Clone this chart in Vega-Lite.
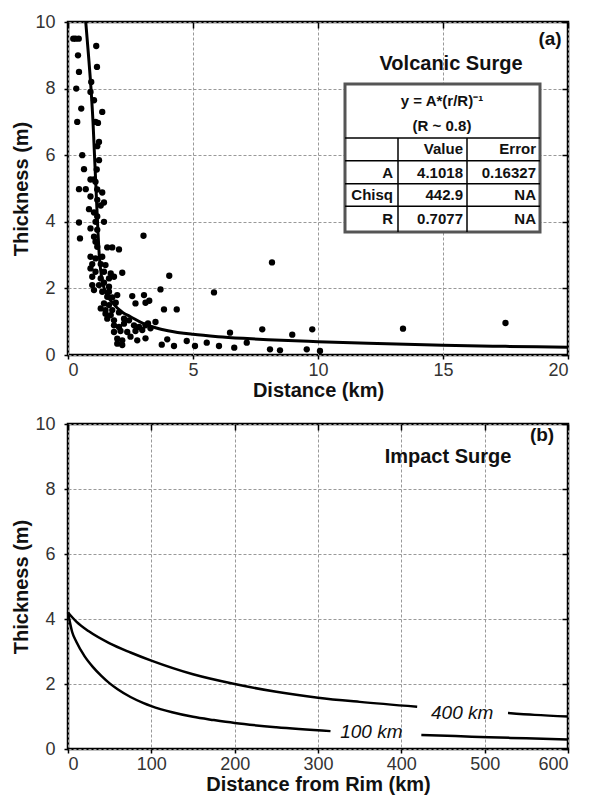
{
  "$schema": "https://vega.github.io/schema/vega-lite/v6.json",
  "background": "white",
  "padding": {"left": 10, "top": 11, "right": 5, "bottom": 3},
  "spacing": 11,
  "config": {
    "font": "Liberation Sans",
    "view": {"stroke": "black", "strokeWidth": 2.5},
    "axis": {
      "labelFont": "Liberation Sans", "labelFontSize": 18, "labelColor": "#333",
      "titleFont": "Liberation Sans", "titleFontSize": 20, "titleFontWeight": "bold", "titleColor": "#111",
      "domain": false, "grid": true, "gridColor": "#999", "gridDash": [3, 2], "gridWidth": 1,
      "tickColor": "black", "tickWidth": 1.5, "tickSize": 4
    },
    "axisX": {"labelPadding": 2, "titlePadding": 1},
    "axisY": {"labelPadding": 9, "titlePadding": 3},
    "text": {"font": "Liberation Sans"}
  },
  "datasets": {
    "volcanic": [
      {"x":0.21,"y":9.5},{"x":0.3,"y":9.5},{"x":0.43,"y":9.5},{"x":1.13,"y":9.28},{"x":0.4,"y":9.0},{"x":1.16,"y":8.65},{"x":0.44,"y":8.5},{"x":0.33,"y":8.0},{"x":0.93,"y":8.2},{"x":0.9,"y":7.9},{"x":1.04,"y":7.65},{"x":0.53,"y":7.4},{"x":1.37,"y":7.3},{"x":0.37,"y":7.0},{"x":1.1,"y":7.0},{"x":1.2,"y":6.97},{"x":1.24,"y":6.4},{"x":1.17,"y":6.27},{"x":0.57,"y":6.0},{"x":1.24,"y":5.85},{"x":1.15,"y":5.57},{"x":0.64,"y":5.58},{"x":0.9,"y":5.27},{"x":1.1,"y":5.2},
      {"x":1.04,"y":5.27},{"x":0.44,"y":4.98},{"x":0.71,"y":4.98},{"x":1.17,"y":4.97},{"x":1.37,"y":4.88},{"x":0.9,"y":4.76},{"x":1.17,"y":4.66},{"x":1.44,"y":4.58},{"x":1.31,"y":4.49},{"x":0.84,"y":4.38},{"x":1.04,"y":4.28},{"x":1.17,"y":4.16},{"x":1.1,"y":4.0},{"x":0.44,"y":3.98},{"x":1.44,"y":4.0},{"x":0.9,"y":3.8},{"x":1.17,"y":3.76},{"x":0.48,"y":3.5},{"x":1.04,"y":3.55},{"x":1.1,"y":3.4},{"x":3.02,"y":3.58},{"x":1.17,"y":3.25},{"x":1.57,"y":3.23},{"x":1.77,"y":3.23},{"x":2.04,"y":3.17},{"x":0.9,"y":2.95},{"x":1.1,"y":2.9},{"x":1.37,"y":2.95},{"x":0.97,"y":2.73},{"x":1.31,"y":2.73},{"x":1.5,"y":2.7},{"x":0.9,"y":2.6},{"x":1.1,"y":2.5},{"x":1.44,"y":2.5},{"x":1.71,"y":2.45},{"x":2.17,"y":2.47},{"x":0.97,"y":2.35},{"x":1.31,"y":2.3},{"x":1.64,"y":2.3},{"x":1.84,"y":2.35},{"x":0.97,"y":2.1},{"x":1.24,"y":2.1},{"x":1.44,"y":2.17},{"x":1.64,"y":2.05},{"x":1.04,"y":1.95},{"x":1.37,"y":1.9},{"x":1.64,"y":1.9},{"x":1.57,"y":1.75},{"x":1.77,"y":1.73},{"x":1.97,"y":1.8},{"x":1.44,"y":1.55},{"x":1.64,"y":1.5},{"x":1.91,"y":1.57},{"x":2.57,"y":1.77},{"x":3.04,"y":1.8},{"x":2.7,"y":1.55},{"x":3.1,"y":1.57},{"x":1.31,"y":1.4},{"x":1.5,"y":1.35},{"x":1.77,"y":1.35},{"x":1.5,"y":1.24},{"x":1.71,"y":1.2},{"x":2.04,"y":1.28},{"x":1.57,"y":1.09},{"x":1.84,"y":1.04},{"x":2.24,"y":1.09},{"x":2.44,"y":1.04},{"x":1.84,"y":0.89},{"x":2.04,"y":0.84},{"x":2.24,"y":0.94},{"x":2.64,"y":0.89},{"x":2.84,"y":0.84},{"x":3.1,"y":0.89},{"x":1.84,"y":0.69},{"x":2.1,"y":0.72},{"x":2.37,"y":0.69},{"x":2.7,"y":0.72},{"x":2.97,"y":0.75},{"x":1.97,"y":0.49},{"x":2.17,"y":0.44},{"x":2.5,"y":0.55},{"x":2.77,"y":0.44},{"x":3.1,"y":0.5},{"x":1.97,"y":0.34},{"x":2.17,"y":0.3},
      {"x":4.05,"y":2.38},{"x":3.7,"y":1.97},{"x":5.84,"y":1.88},{"x":8.16,"y":2.78},{"x":3.25,"y":1.63},{"x":3.84,"y":1.37},{"x":4.35,"y":1.37},{"x":3.5,"y":0.99},{"x":6.48,"y":0.67},{"x":7.77,"y":0.77},{"x":8.97,"y":0.61},{"x":9.77,"y":0.77},{"x":3.97,"y":0.47},{"x":3.75,"y":0.31},{"x":4.24,"y":0.27},{"x":4.75,"y":0.42},{"x":5.08,"y":0.27},{"x":5.55,"y":0.37},{"x":6.04,"y":0.27},{"x":6.65,"y":0.22},{"x":7.15,"y":0.37},{"x":8.08,"y":0.17},{"x":8.48,"y":0.14},{"x":9.55,"y":0.17},{"x":10.08,"y":0.12},{"x":13.4,"y":0.79},{"x":17.5,"y":0.96},{"x":3.3,"y":0.8},{"x":3.2,"y":0.95}
    ],
    "fit": [
      {"x":0.71,"y":10},{"x":0.82,"y":9},{"x":0.92,"y":8},{"x":1.0,"y":7},{"x":1.06,"y":6},{"x":1.12,"y":5},{"x":1.18,"y":4},{"x":1.25,"y":3},{"x":1.35,"y":2.3},{"x":1.5,"y":1.9},{"x":1.8,"y":1.55},{"x":2.2,"y":1.27},{"x":2.5,"y":1.15},{"x":3.0,"y":0.95},{"x":3.5,"y":0.82},{"x":4,"y":0.73},{"x":5,"y":0.62},{"x":6,"y":0.55},{"x":7,"y":0.5},{"x":8,"y":0.46},{"x":10,"y":0.4},{"x":12,"y":0.35},{"x":15,"y":0.29},{"x":17.5,"y":0.26},{"x":20,"y":0.23}
    ],
    "impact": [
      {"d":0,"t":4.2,"seg":"400a"},{"d":10,"t":3.92,"seg":"400a"},{"d":25,"t":3.62,"seg":"400a"},{"d":50,"t":3.25,"seg":"400a"},{"d":75,"t":2.97,"seg":"400a"},{"d":100,"t":2.72,"seg":"400a"},{"d":150,"t":2.3,"seg":"400a"},{"d":200,"t":2.0,"seg":"400a"},{"d":250,"t":1.76,"seg":"400a"},{"d":300,"t":1.58,"seg":"400a"},{"d":350,"t":1.45,"seg":"400a"},{"d":419,"t":1.3,"seg":"400a"},
      {"d":528,"t":1.11,"seg":"400b"},{"d":560,"t":1.05,"seg":"400b"},{"d":600,"t":1.0,"seg":"400b"},
      {"d":0,"t":4.2,"seg":"100a"},{"d":5,"t":3.6,"seg":"100a"},{"d":10,"t":3.3,"seg":"100a"},{"d":20,"t":2.85,"seg":"100a"},{"d":30,"t":2.52,"seg":"100a"},{"d":40,"t":2.25,"seg":"100a"},{"d":50,"t":2.02,"seg":"100a"},{"d":60,"t":1.83,"seg":"100a"},{"d":75,"t":1.6,"seg":"100a"},{"d":90,"t":1.42,"seg":"100a"},{"d":100,"t":1.32,"seg":"100a"},{"d":125,"t":1.13,"seg":"100a"},{"d":150,"t":0.99,"seg":"100a"},{"d":175,"t":0.89,"seg":"100a"},{"d":200,"t":0.8,"seg":"100a"},{"d":250,"t":0.67,"seg":"100a"},{"d":315,"t":0.55,"seg":"100a"},
      {"d":424,"t":0.43,"seg":"100b"},{"d":465,"t":0.4,"seg":"100b"},{"d":505,"t":0.36,"seg":"100b"},{"d":550,"t":0.33,"seg":"100b"},{"d":600,"t":0.29,"seg":"100b"}
    ]
  },
  "vconcat": [
    {
      "width": 500, "height": 333,
      "resolve": {"axis": {"x": "independent", "y": "independent"}},
      "layer": [
        {
          "data": {"name": "volcanic"},
          "mark": {"type": "circle", "size": 40, "color": "black", "opacity": 1},
          "encoding": {
            "x": {"field": "x", "type": "quantitative", "scale": {"domain": [0, 20], "nice": false}, "axis": {"title": "Distance (km)", "values": [0, 5, 10, 15, 20]}},
            "y": {"field": "y", "type": "quantitative", "scale": {"domain": [0, 10], "nice": false}, "axis": {"title": "Thickness (m)", "values": [0, 2, 4, 6, 8, 10]}}
          }
        },
        {
          "data": {"name": "fit"},
          "mark": {"type": "line", "color": "black", "strokeWidth": 3, "interpolate": "monotone"},
          "encoding": {
            "x": {"field": "x", "type": "quantitative", "axis": {"orient": "top", "labels": false, "title": null, "grid": false, "values": [0, 5, 10, 15, 20], "tickSize": -6}},
            "y": {"field": "y", "type": "quantitative", "axis": {"orient": "right", "labels": false, "title": null, "grid": false, "values": [0, 2, 4, 6, 8, 10], "tickSize": -6}}
          }
        },
        {
          "data": {"values": [{"x1": 11.08, "x2": 18.88, "y1": 3.69, "y2": 8.14}]},
          "mark": {"type": "rect", "fill": "white", "stroke": "#555", "strokeWidth": 3},
          "encoding": {
            "x": {"field": "x1", "type": "quantitative", "axis": null}, "x2": {"field": "x2"},
            "y": {"field": "y1", "type": "quantitative", "axis": null}, "y2": {"field": "y2"}
          }
        },
        {
          "data": {"values": [
            {"x1": 11.08, "x2": 18.88, "y1": 6.52, "y2": 6.52},
            {"x1": 11.08, "x2": 18.88, "y1": 5.83, "y2": 5.83},
            {"x1": 11.08, "x2": 18.88, "y1": 5.14, "y2": 5.14},
            {"x1": 11.08, "x2": 18.88, "y1": 4.47, "y2": 4.47},
            {"x1": 13.2, "x2": 13.2, "y1": 3.69, "y2": 6.52},
            {"x1": 15.96, "x2": 15.96, "y1": 3.69, "y2": 6.52}
          ]},
          "mark": {"type": "rule", "color": "black", "strokeWidth": 1.5},
          "encoding": {
            "x": {"field": "x1", "type": "quantitative", "axis": null}, "x2": {"field": "x2"},
            "y": {"field": "y1", "type": "quantitative", "axis": null}, "y2": {"field": "y2"}
          }
        },
        {
          "data": {"values": [
            {"x": 13.0, "y": 5.47, "label": "A"},
            {"x": 13.0, "y": 4.8, "label": "Chisq"},
            {"x": 13.0, "y": 4.08, "label": "R"},
            {"x": 15.8, "y": 6.19, "label": "Value"},
            {"x": 15.8, "y": 5.47, "label": "4.1018"},
            {"x": 15.8, "y": 4.8, "label": "442.9"},
            {"x": 15.8, "y": 4.08, "label": "0.7077"},
            {"x": 18.72, "y": 6.19, "label": "Error"},
            {"x": 18.72, "y": 5.47, "label": "0.16327"},
            {"x": 18.72, "y": 4.8, "label": "NA"},
            {"x": 18.72, "y": 4.08, "label": "NA"}
          ]},
          "mark": {"type": "text", "align": "right", "baseline": "middle", "fontSize": 15, "fontWeight": "bold", "color": "#111"},
          "encoding": {
            "x": {"field": "x", "type": "quantitative", "axis": null},
            "y": {"field": "y", "type": "quantitative", "axis": null},
            "text": {"field": "label"}
          }
        },
        {
          "data": {"values": [
            {"x": 14.96, "y": 7.63, "label": "y = A*(r/R)⁻¹", "size": 15},
            {"x": 14.96, "y": 6.88, "label": "(R ~ 0.8)", "size": 15},
            {"x": 15.32, "y": 8.74, "label": "Volcanic Surge", "size": 20},
            {"x": 19.28, "y": 9.49, "label": "(a)", "size": 19}
          ]},
          "mark": {"type": "text", "align": "center", "baseline": "middle", "fontWeight": "bold", "color": "#111"},
          "encoding": {
            "x": {"field": "x", "type": "quantitative", "axis": null},
            "y": {"field": "y", "type": "quantitative", "axis": null},
            "text": {"field": "label"},
            "size": {"field": "size", "type": "quantitative", "scale": null, "legend": null}
          }
        }
      ]
    },
    {
      "width": 500, "height": 325,
      "resolve": {"axis": {"x": "independent", "y": "independent"}},
      "layer": [
        {
          "data": {"name": "impact"},
          "mark": {"type": "line", "color": "black", "strokeWidth": 2.5, "interpolate": "monotone"},
          "encoding": {
            "x": {"field": "d", "type": "quantitative", "scale": {"domain": [0, 600], "nice": false}, "axis": {"title": "Distance from Rim (km)", "values": [0, 100, 200, 300, 400, 500, 600]}},
            "y": {"field": "t", "type": "quantitative", "scale": {"domain": [0, 10], "nice": false}, "axis": {"title": "Thickness (m)", "values": [0, 2, 4, 6, 8, 10]}},
            "detail": {"field": "seg", "type": "nominal"}
          }
        },
        {
          "data": {"values": [
            {"d": 473, "t": 1.11, "label": "400 km"},
            {"d": 364, "t": 0.53, "label": "100 km"}
          ]},
          "mark": {"type": "text", "align": "center", "baseline": "middle", "fontSize": 19, "fontStyle": "italic", "color": "#111"},
          "encoding": {
            "x": {"field": "d", "type": "quantitative", "axis": {"orient": "top", "labels": false, "title": null, "grid": false, "values": [0, 100, 200, 300, 400, 500, 600], "tickSize": -6}},
            "y": {"field": "t", "type": "quantitative", "axis": {"orient": "right", "labels": false, "title": null, "grid": false, "values": [0, 2, 4, 6, 8, 10], "tickSize": -6}},
            "text": {"field": "label"}
          }
        },
        {
          "data": {"values": [
            {"d": 456, "t": 8.98, "label": "Impact Surge", "size": 20},
            {"d": 568.8, "t": 9.66, "label": "(b)", "size": 19}
          ]},
          "mark": {"type": "text", "align": "center", "baseline": "middle", "fontWeight": "bold", "color": "#111"},
          "encoding": {
            "x": {"field": "d", "type": "quantitative", "axis": null},
            "y": {"field": "t", "type": "quantitative", "axis": null},
            "text": {"field": "label"},
            "size": {"field": "size", "type": "quantitative", "scale": null, "legend": null}
          }
        }
      ]
    }
  ]
}
